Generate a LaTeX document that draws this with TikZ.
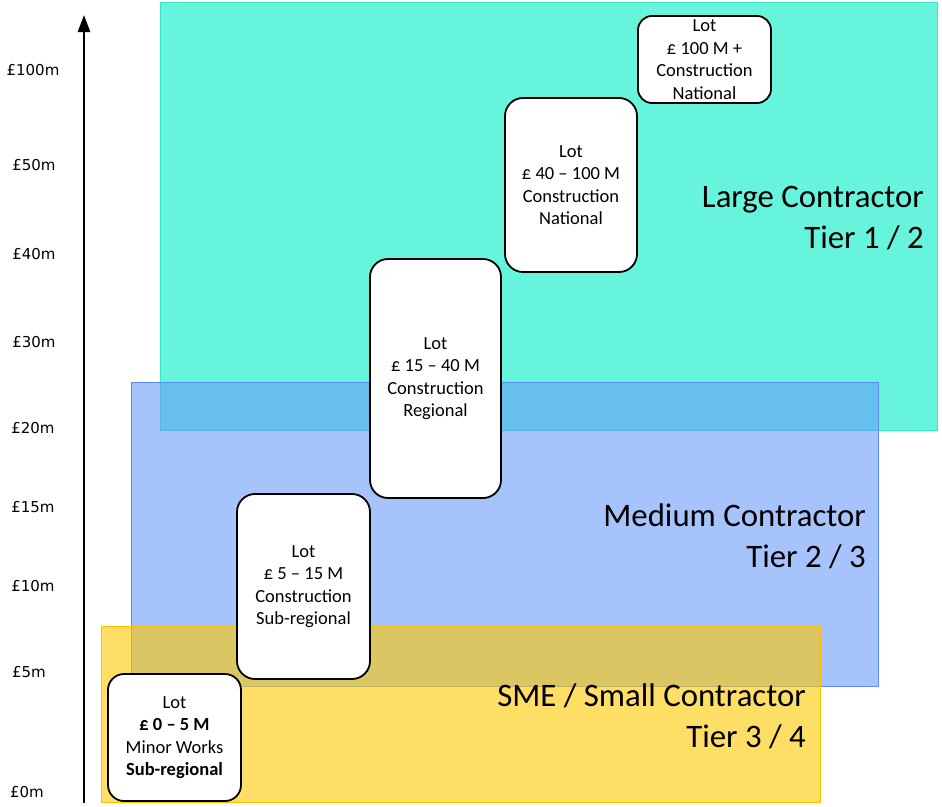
\documentclass[tikz,border=0pt]{standalone}
\usepackage{fontspec}
\setmainfont{Carlito}
\newfontfamily\axisfont{DejaVu Sans}
\usetikzlibrary{arrows.meta, positioning}

\definecolor{tiergreen}{RGB}{102,245,220}
\definecolor{tiergreenline}{RGB}{50,230,200}
\definecolor{tierblue}{RGB}{102,152,250}
\definecolor{tierblueline}{RGB}{90,140,245}
\definecolor{tieryellow}{RGB}{255,200,0}
\definecolor{tieryellowline}{RGB}{255,192,0}

\begin{document}
\begin{tikzpicture}
  [x=1pt, y=-1pt,
   lot/.style={draw=black, line width=1.8pt, fill=white, rounded corners=18pt,
     align=center, inner sep=0pt,
     font=\fontsize{18.5}{22.5}\selectfont},
   tier/.style={anchor=east, align=right, inner sep=0pt,
     font=\fontsize{32.8}{41}\selectfont},
   tick/.style={inner sep=0pt, font=\axisfont\fontsize{15}{17}\selectfont}]
  \useasboundingbox (0,0) rectangle (942,806);

  % contractor bands
  \draw[tiergreenline, fill=tiergreen, line width=1pt] (160,2) rectangle (937,430);
  \draw[tierblueline, fill=tierblue, fill opacity=0.58, line width=1pt] (131,382) rectangle (878,686);
  \draw[tieryellowline, fill=tieryellow, fill opacity=0.6, line width=1pt] (101,626) rectangle (820,802);

  \node (large) [tier] at (924,218) {Large Contractor\\Tier 1 / 2};
  \node (medium) [tier] at (866,536) {Medium Contractor\\Tier 2 / 3};
  \node (small) [tier] at (806,716) {SME / Small Contractor\\Tier 3 / 4};

  % value axis
  \coordinate (axisbot) at (84,803);
  \coordinate (axistop) at (84,15);
  \draw[line width=2.6pt, -{Triangle[length=17pt, width=12pt]}] (axisbot) -- (axistop);
  \foreach \val/\x/\y in {100/33/70, 50/34/165, 40/34/254, 30/34/342, 20/33/428,
                          15/33/507, 10/33/586, 5/29/672, 0/27/792}{
    \node (tick\val) [tick] at (\x,\y) {£\val m};
  }

  % lots
  \node (lot0) [lot, minimum width=133pt, minimum height=127pt, rounded corners=16pt]
    at (174.5,737.5) {Lot\\\textbf{£ 0 – 5 M}\\Minor Works\\\textbf{Sub-regional}};
  \node (lot5) [lot, minimum width=133pt, minimum height=185pt]
    at (303.5,586.5) {Lot\\£ 5 – 15 M\\Construction\\Sub-regional};
  \node (lot15) [lot, minimum width=131pt, minimum height=239pt]
    at (435.5,378.5) {Lot\\£ 15 – 40 M\\Construction\\Regional};
  \node (lot40) [lot, minimum width=132pt, minimum height=174pt]
    at (571,185) {Lot\\£ 40 – 100 M\\Construction\\National};
  \node (lot100) [lot, minimum width=133pt, minimum height=87pt, rounded corners=14pt]
    at (704.5,59.5) {Lot\\£ 100 M +\\Construction\\National};
\end{tikzpicture}
\end{document}
